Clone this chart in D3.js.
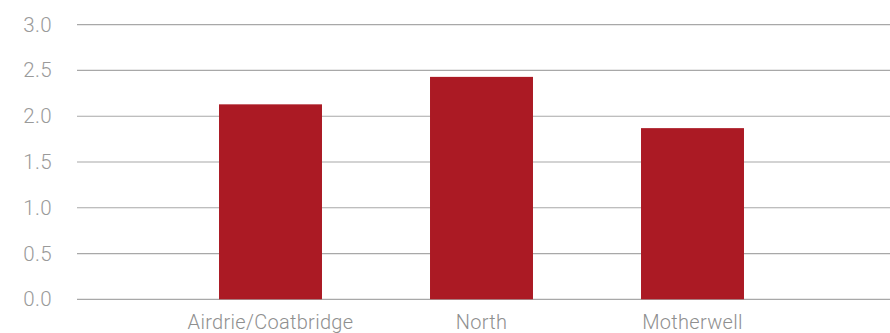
<!DOCTYPE html>
<html>
<head>
<meta charset="utf-8">
<script src="https://cdn.jsdelivr.net/npm/d3@7/dist/d3.min.js"></script>
<style>
  html, body { margin: 0; padding: 0; background: #fff; }
  svg { display: block; }
  text { font-family: Roboto, "Liberation Sans", sans-serif; font-weight: 300; }
</style>
</head>
<body>
<svg id="chart" width="890" height="333"></svg>
<script>
const categories = ["Airdrie/Coatbridge", "North", "Motherwell"];
const values = [2.13, 2.43, 1.87];
const yTicks = [0, 0.5, 1.0, 1.5, 2.0, 2.5, 3.0];

const svg = d3.select("#chart");
const W = 890;

const y = d3.scaleLinear().domain([0, 3]).range([299.3, 24.7]);
const x = d3.scaleBand().domain(categories).range([165, 798])
  .paddingInner(0.512).paddingOuter(0.256);

// gridlines
svg.append("g").selectAll("line").data(yTicks).join("line")
  .attr("x1", 77).attr("x2", W)
  .attr("y1", d => y(d)).attr("y2", d => y(d))
  .attr("stroke", "#a8a8a8").attr("stroke-width", 1.2);

// y labels
svg.append("g").selectAll("text").data(yTicks).join("text")
  .attr("x", 52).attr("y", d => y(d))
  .attr("text-anchor", "end").attr("dominant-baseline", "central")
  .attr("fill", "#9a9a9a").attr("font-size", 20.5)
  .attr("letter-spacing", 0.4)
  .text(d => d.toFixed(1));

// bars
svg.append("g").selectAll("rect").data(values).join("rect")
  .attr("x", (d, i) => x(categories[i]))
  .attr("width", x.bandwidth())
  .attr("y", d => y(d))
  .attr("height", d => y(0) - y(d))
  .attr("fill", "#ab1a24");

// x labels
svg.append("g").selectAll("text").data(categories).join("text")
  .attr("x", d => x(d) + x.bandwidth() / 2)
  .attr("y", 328.5)
  .attr("text-anchor", "middle")
  .attr("fill", "#8f8f8f").attr("font-size", 20)
  .attr("letter-spacing", 0.3)
  .text(d => d);
</script>
</body>
</html>
